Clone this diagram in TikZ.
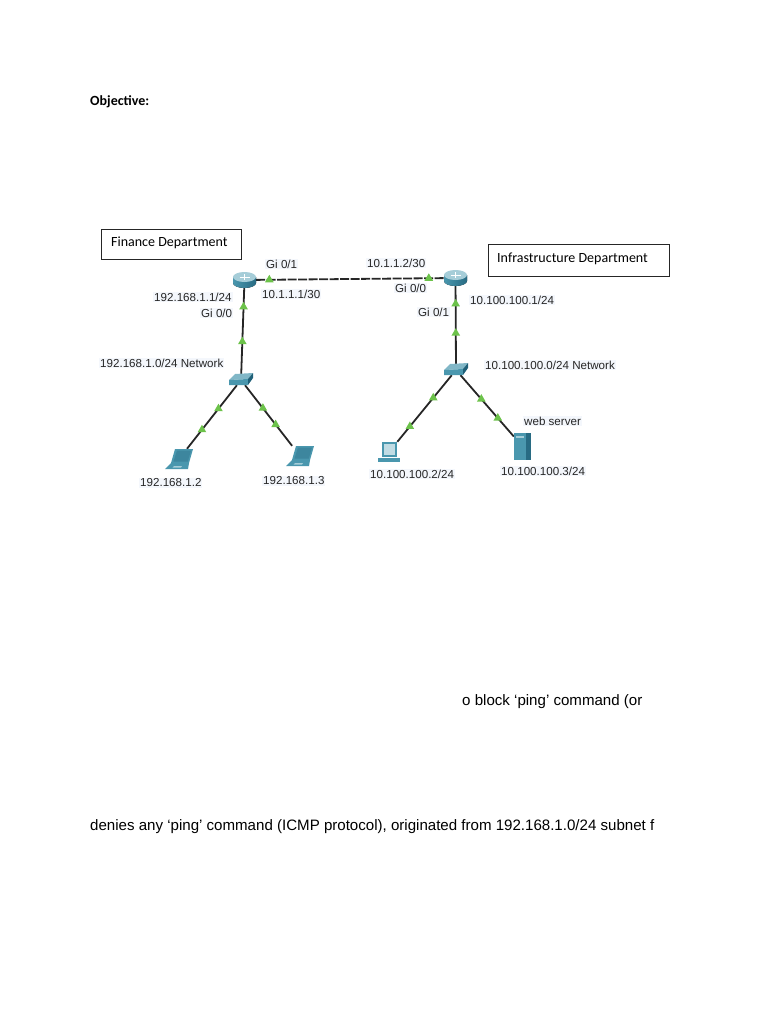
\documentclass[tikz,border=0pt]{standalone}
\usepackage{fontspec}
\usepackage{xcolor}
\usepackage{tikz}
\usetikzlibrary{shapes.geometric}
\setmainfont{Liberation Sans}
\newfontfamily\docfont{Carlito}
\definecolor{labelbg}{HTML}{F4F7FC}
\definecolor{flowgreen}{HTML}{6CC24A}
\definecolor{iconlight}{HTML}{A6CDD8}
\definecolor{iconmid}{HTML}{4A97AE}
\definecolor{icondark}{HTML}{1F6078}
\tikzstyle{node:router}=[inner sep=0pt,minimum width=23pt,minimum height=15pt]
\tikzstyle{node:switch}=[inner sep=0pt,minimum width=24pt,minimum height=10pt]
\tikzstyle{node:laptop}=[inner sep=0pt,minimum width=28pt,minimum height=20pt]
\tikzstyle{node:pc}=[inner sep=0pt,minimum width=22pt,minimum height=20pt]
\tikzstyle{node:server}=[inner sep=0pt,minimum width=17pt,minimum height=27pt]
\tikzstyle{node:flow}=[regular polygon,regular polygon sides=3,fill=flowgreen,inner sep=0pt,minimum size=10pt]
\tikzstyle{node:label}=[anchor=west,inner sep=1pt,fill=labelbg,text=black!85,font=\fontsize{11.6}{13}\selectfont]
\tikzstyle{node:dept}=[anchor=west,inner sep=0pt,font=\docfont\fontsize{14}{16}\selectfont]
\tikzstyle{node:page}=[anchor=west,inner sep=0pt,font=\fontsize{15.08}{17}\selectfont]
\tikzstyle{draw:link}=[line width=1.8pt,black!85]
\tikzstyle{draw:box}=[draw=black!85,line width=0.9pt]
\newcommand{\drawrouter}[1]{
    \begin{scope}[shift={(#1)}]
        \fill[left color=iconmid,right color=icondark!80!iconmid] (-11.5,-3) -- (-11.5,3) arc (180:0:11.5 and 5) -- (11.5,-3) -- cycle;
        \fill[iconlight] (0,-3) ellipse (11.5 and 5);
        \draw[white,line width=0.4pt] (-5,-3) -- (5,-3) (0,-6) -- (0,0);
    \end{scope}
}
\newcommand{\drawswitch}[1]{
    \begin{scope}[shift={(#1)}]
        \fill[iconlight!60!iconmid] (-6,-6) -- (12,-7) -- (7,-1) -- (-12,0) -- cycle;
        \fill[iconmid] (-12,0) -- (7,-1) -- (7,5) -- (-12,5) -- cycle;
        \fill[icondark] (7,-1) -- (12,-7) -- (12,-2) -- (7,5) -- cycle;
    \end{scope}
}
\newcommand{\drawlaptop}[1]{
    \begin{scope}[shift={(#1)}]
        \fill[iconmid] (-4,-10) -- (14,-10) -- (10,4) -- (-8,4) -- cycle;
        \fill[iconmid!70!icondark] (-2,-8.5) -- (12,-8.5) -- (8.8,2.5) -- (-5.5,2.5) -- cycle;
        \fill[iconmid] (-8,4) -- (10,4) -- (9,10) -- (-14,10) -- cycle;
        \fill[iconlight] (-5,7) -- (3,7) -- (2,8.5) -- (-6.5,8.5) -- cycle;
    \end{scope}
}
\newcommand{\drawpc}[1]{
    \begin{scope}[shift={(#1)}]
        \fill[iconmid] (-7,-10) rectangle (8,5);
        \fill[iconlight!70!white] (-5,-8) rectangle (6,3);
        \fill[iconmid] (-11,6) rectangle (11,10);
    \end{scope}
}
\newcommand{\drawserver}[1]{
    \begin{scope}[shift={(#1)}]
        \fill[iconmid] (-8.5,-13.5) rectangle (3.5,13.5);
        \fill[icondark!80!iconmid] (3.5,-13.5) rectangle (8.5,13.5);
        \fill[iconlight] (-6.5,-11) rectangle (1,-9);
    \end{scope}
}
\begin{document}
\begin{tikzpicture}[x=1pt, y=-1pt]
        \useasboundingbox (0,0) rectangle (768,1024);

        % Routers
        \node[node:router] (router_fin) at (244.5,280) {};
        \node[node:router] (router_inf) at (455.5,278) {};

        % Switches
        \node[node:switch] (switch_fin) at (241,380) {};
        \node[node:switch] (switch_inf) at (456,370) {};

        % End devices
        \node[node:laptop] (laptop_a) at (179,459) {};
        \node[node:laptop] (laptop_b) at (300,456) {};
        \node[node:pc] (pc_inf) at (389,452) {};
        \node[node:server] (server_inf) at (522.5,446.5) {};

        % Connections
        \draw[draw:link,dashed,dash pattern=on 9pt off 1.5pt] (router_fin) -- node[node:flow,pos=.07]{} node[node:flow,pos=.92]{} (router_inf);
        \draw[draw:link] (switch_fin) -- node[node:flow,pos=.38]{} node[node:flow,pos=.78]{} (router_fin);
        \draw[draw:link] (switch_inf) -- node[node:flow,pos=.4]{} node[node:flow,pos=.77]{} (router_inf);
        \draw[draw:link] (switch_fin) -- node[node:flow,pos=.37]{} node[node:flow,pos=.7]{} (laptop_a);
        \draw[draw:link] (switch_fin) -- node[node:flow,pos=.38]{} node[node:flow,pos=.65]{} (laptop_b);
        \draw[draw:link] (switch_inf) -- node[node:flow,pos=.34]{} node[node:flow,pos=.77]{} (pc_inf);
        \draw[draw:link] (switch_inf) -- node[node:flow,pos=.39]{} node[node:flow,pos=.7]{} (server_inf);

        % Icons
        \drawrouter{router_fin}
        \drawrouter{router_inf}
        \drawswitch{switch_fin}
        \drawswitch{switch_inf}
        \drawlaptop{laptop_a}
        \drawlaptop{laptop_b}
        \drawpc{pc_inf}
        \drawserver{server_inf}

        % Department boxes
        \node[draw:box,minimum width=140pt,minimum height=30pt,inner sep=0pt] (box_fin) at (171,244) {};
        \node[draw:box,minimum width=181pt,minimum height=32pt,inner sep=0pt] (box_inf) at (578.5,260) {};
        \node[node:dept] (name_fin) at (111,242.5) {Finance Department};
        \node[node:dept] (name_inf) at (497,258.5) {Infrastructure Department};

        % Labels
        \node[node:label] (gi01_fin) at (265,264) {Gi 0/1};
        \node[node:label] (wan_fin) at (261,294) {10.1.1.1/30};
        \node[node:label] (lan_fin) at (153,297) {192.168.1.1/24};
        \node[node:label] (gi00_fin) at (200,313) {Gi 0/0};
        \node[node:label] (net_fin) at (99,363) {192.168.1.0/24 Network};
        \node[node:label] (ip_a) at (139,483) {192.168.1.2};
        \node[node:label] (ip_b) at (262,481) {192.168.1.3};
        \node[node:label] (wan_inf) at (366,263) {10.1.1.2/30};
        \node[node:label] (gi00_inf) at (394,288) {Gi 0/0};
        \node[node:label] (lan_inf) at (469,300) {10.100.100.1/24};
        \node[node:label] (gi01_inf) at (417,312) {Gi 0/1};
        \node[node:label] (net_inf) at (484,365) {10.100.100.0/24 Network};
        \node[node:label] (web_inf) at (523,421) {web server};
        \node[node:label] (ip_server) at (500,471) {10.100.100.3/24};
        \node[node:label] (ip_pc) at (369,474) {10.100.100.2/24};

        % Page text
        \node[node:dept,font=\docfont\bfseries\fontsize{14}{16}\selectfont] (objective) at (90,102) {Objective:};
        \node[node:page] (line_a) at (462,701.5) {o block ‘ping’ command (or};
        \node[node:page] (line_b) at (90,826.5) {denies any ‘ping’ command (ICMP protocol), originated from 192.168.1.0/24 subnet f};

    \end{tikzpicture}
\end{document}
